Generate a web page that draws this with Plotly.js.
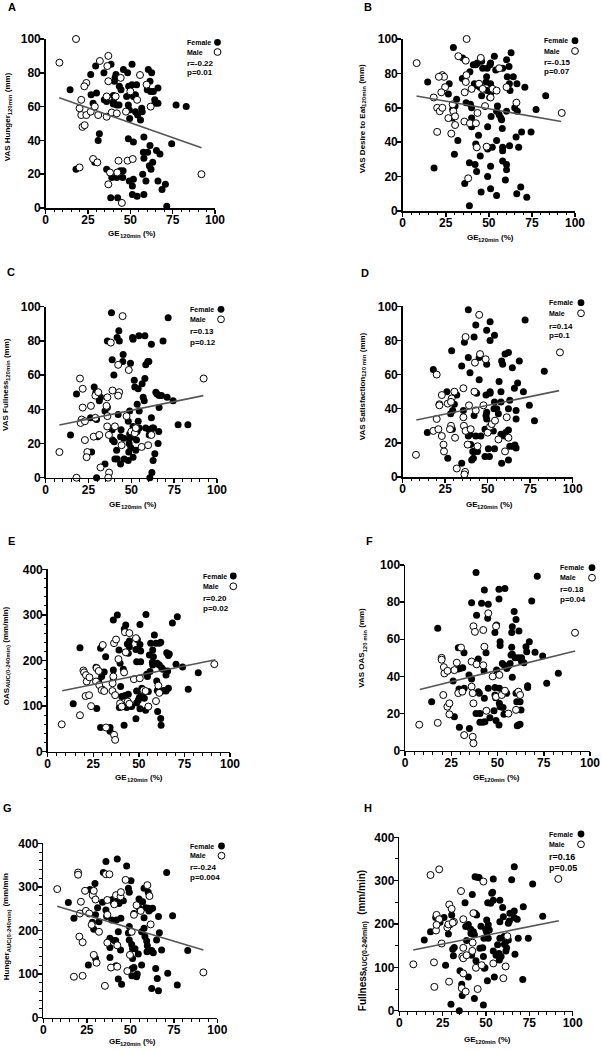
<!DOCTYPE html>
<html><head><meta charset="utf-8">
<script src="https://cdn.plot.ly/plotly-3.0.1.min.js"></script>
<style>body{margin:0;background:#fff}#chart{width:602px;height:1050px}</style>
</head><body><div id="chart"></div>
<script>
// ---------- DATA ----------
const fitX = [8, 92];

// A: VAS Hunger 120min
const hungerFemale = [[14.4,70],[26.6,79],[29.5,84],[38.6,85],[34.4,80],[41,77],[41.5,79],[45.9,82],[48.4,80],[51,85],[40.6,75],[43.5,72],[44.5,70],[49,72],[51,73],[53.7,73],[60.6,82],[62.6,80],[61.6,75],[66.3,71],[60,70],[62,69],[63.6,69],[50,68],[47.8,66],[51.8,66],[53,67],[26.8,67],[30,68],[28,62],[34.6,64],[36,63],[40,63],[40,66.5],[40,61.6],[42,61],[43.3,61],[48.8,61],[49.4,58],[53,57],[54.3,55],[56,52],[57,57],[56.7,59],[64.4,64],[64.6,62],[66.3,62],[77,61],[83,60],[49.6,53],[31.7,44],[31,40],[48.8,41],[51.8,39],[58,42],[61.6,37],[57.7,33],[60.2,33],[63.2,27],[61.2,25],[62.2,23],[65.4,34],[67.5,32],[58,29.5],[74.4,38],[29,27],[17.9,23],[36,23],[39,18],[42,18],[44,22],[45.7,22],[45.5,18],[49.4,16],[51.8,17],[51.2,13],[57.3,20],[59.2,16],[66.3,16],[70.7,14],[68.7,11],[38.4,6],[42.5,6],[51.2,8],[54,7],[58,8],[71.5,1]];
const hungerMale = [[17.9,100],[8.1,86],[37,90],[32,87],[36.4,84],[24,74],[22.8,72],[37,75],[44.3,77],[55.7,78.7],[21,64],[41.3,66],[20,59],[21,55],[24,55],[26.6,57],[29,60],[31,55],[36,54],[39,56.5],[42,56],[47.4,57],[21.7,48],[23,49],[36,66],[54,64],[50,69],[59.6,73],[62,60],[20,24],[28,29],[30.5,27],[43,28],[48.4,28],[51.4,29],[38,21],[42.3,21],[37,14],[45,3],[92,20]];
const hungerFit = [65.2, 35.6];
const hungerStat = ['r=-0.22', 'p=0.01'];

// B: VAS Desire to Eat 120min
const desireFemale = [[14.5,75],[18.2,25],[26.5,68],[27,74],[29.4,95],[31.3,65],[30.4,61],[29,59],[28.8,54],[32,41],[30,33],[34.8,89],[34.6,77],[39,81],[36.8,63],[39.3,62],[40,60],[40,54],[40,49],[41.6,74],[43,73],[44.9,72],[43.3,86],[41,85],[42.4,85],[45.8,87],[46.4,83],[49,83],[51,86],[50.7,85],[53.2,90],[54,82],[58,83],[60.3,88],[62.9,92],[61.7,84],[64.2,78],[60.7,78],[61.9,74],[62.3,70],[66.3,74],[70.9,72],[83,67],[77.4,59],[48.4,75],[49,70],[50.5,66],[51.3,69],[48.7,78],[51,74],[45.8,67],[44.5,74],[55,61],[54.5,58],[51.3,55],[56,56],[57.4,53],[57,54],[60.3,58],[65,60],[66.5,58],[69,46],[65.8,43],[74.5,46],[62,38],[67.3,37],[49.3,49],[54.5,41],[52,37],[49.3,36],[57.8,48],[58,37],[58,35],[58,29],[60.3,27],[60.3,24],[59.6,18],[44,44],[42.4,39],[42,27],[42.9,23],[38.7,28],[45,32],[51,26],[49.3,20],[45.5,11],[51,13],[54.5,9],[36,16],[38.7,3],[66.2,10],[68.5,14],[72,8]];
const desireMale = [[37.1,100],[8.1,86],[32.3,90],[36.6,87.4],[45.3,89],[23,79],[24,78],[21,78],[37,79],[36.6,75],[44.3,74],[24.6,72],[22.4,69],[36,69],[40,71],[46.4,71],[52.2,71],[54.5,70],[56,83],[60.3,72],[66,63],[18,66],[20,60],[21.5,58],[23,60],[26.5,54],[29.4,58],[29,62],[30.4,55],[30.4,50],[28.2,45],[20,46],[35.8,52],[39,51],[43.4,57],[42.5,51],[47.8,61],[43,37],[48.7,37.4],[38,19],[51,66],[92.3,57]];
const desireFit = [66.9, 52];
const desireStat = ['r=-0.15', 'p=0.07'];

// C: VAS Fullness 120min
const fullnessFemale = [[14.5,25],[18,49],[26.8,15],[26.2,35],[28.3,53],[29.3,50],[29.7,34],[30.3,24],[29.7,0],[31.3,45],[32,47],[34.6,8],[34.6,39],[36,41],[36,80],[38.4,96.5],[38.8,69],[39.8,60],[41.7,82],[42.7,86],[43,80],[42.3,37],[38.8,28],[39,22],[40,21],[41.4,16],[40.4,11],[41.7,11],[43.7,8],[43.7,24],[44,28],[45.6,23],[45,68],[45.2,72],[45.8,11],[48.5,15],[49,23],[48.7,20],[49,25.5],[49.7,17.5],[48.2,33],[49,39],[49.5,67],[48.2,10],[50.7,24],[51,30],[50.7,82],[51,81],[51.7,57],[52,53],[53.4,43],[53.4,27],[51,12],[52.6,16],[54,33],[53,22],[54.4,83],[54.6,29],[54.6,39],[54,52],[56.3,55],[56.9,47],[57.5,45],[57.9,58],[58.4,66],[59.6,68],[60.2,68],[57.9,83],[58.4,29],[60.4,28],[60.4,25],[61.4,28],[62.3,29],[63,29],[60.8,0],[62,3],[62.7,10],[63.7,14],[61.7,35],[61.7,78],[64.3,50],[65,49],[66.2,48],[67.6,48],[66.2,41],[66,27],[65.6,20],[68.5,80],[70.9,47],[71.5,93.5],[74.4,45],[77.3,31],[83,31]];
const fullnessMale = [[8,15],[18,0],[20,58],[21.6,52],[21.6,41],[21,34],[20.4,32],[22.9,33],[22.9,22],[24.3,15],[23.9,12],[26.4,42],[29,35],[29,48],[30.7,50],[28,24],[31.3,25],[32,6],[36,36],[35.9,30],[36.9,25],[35.5,42],[36,47],[38,79],[39,51],[40.4,30],[37,3],[36.5,0],[42.3,66],[42.9,50],[42.3,48],[44.3,19],[44.9,94.5],[48.5,63],[47.2,36],[50,27],[52,26],[52.6,29],[56,18],[59.8,19],[61.7,25],[92.2,58]];
const fullnessFit = [30.8, 48];
const fullnessStat = ['r=0.13', 'p=0.12'];

// D: VAS Satisfaction 120 min
const satisfFemale = [[14.5,26],[18,63],[26,50],[26.5,11],[28.8,74],[29.2,28],[28.2,37],[29.4,39],[30.4,42.6],[31.8,48],[34.7,65],[34.7,8],[35.7,39],[36.3,79],[38.6,98],[38.6,70],[38.6,24],[39.6,25],[39.6,61],[40,19],[40.6,10],[41.6,11],[41.2,15],[42.2,15],[42,82],[43,89],[42,36],[43,24],[43.5,49],[44,15],[45,70],[45,57],[46,24],[49.4,86],[49.4,66],[49,48],[49,36],[49.4,34],[49.4,38],[48.4,28],[48.4,12],[50.4,16.5],[51,12],[51.4,91],[51.4,80],[51.4,49],[51.4,50],[54,83],[54,44],[53.7,40],[53.3,27],[54,16.5],[55.3,40],[56.3,37],[56.7,56],[57.8,50],[57.8,44],[57.8,25],[58.2,68],[58.8,66],[58.2,8],[60.2,72],[62.2,73],[60,24],[60.6,26],[62.2,27.5],[62.2,40],[62.2,10],[63,45],[63,18],[64.7,18],[64.5,64],[66,18.7],[66.7,17],[66.7,39],[66.7,34],[65.7,52],[67.6,55],[68.6,68],[71,50],[72,92],[74.5,42],[77.5,33],[83.3,62]];
const satisfMale = [[7.8,13],[18,27],[20,60],[20,34],[21.6,42.6],[21.6,42],[21,28],[23,24],[23,48],[24,19],[24.3,15],[26.5,43],[28.8,46],[28.4,44],[28.4,30],[27.8,28],[30.4,50],[30.8,23],[31.8,5],[35.7,52],[35.7,35],[36,30],[37,27],[36.7,3],[36.3,1.5],[37,82],[38.2,19],[39,42],[40,28],[42.5,67],[42.2,50],[43,39],[44,18],[45,95],[45.5,72],[47.5,42],[48.8,69],[50,26],[51.4,29.5],[52.4,31],[54.3,33],[56.3,22],[60.2,15],[61.2,35],[62.2,23],[92.5,73]];
const satisfFit = [33.4, 50.6];
const satisfStat = ['r=0.14', 'p=0.1'];

// E: OAS AUC(0-240min)
const oasAucFemale = [[14,105],[17.7,228],[26.9,95],[26.5,185],[28,155],[29,227],[29.6,165],[29,53],[31,175],[31.8,208],[30,137],[34.2,53],[34.2,45],[36,289],[36,179],[36,161],[38.2,300],[39.1,223],[39.7,194],[40,143],[39.3,97],[41.1,102],[41.9,58],[40.6,121],[42.4,123],[41.5,181],[42,269],[42.8,278],[43.7,236],[44.2,216],[44.8,230],[44.8,243],[44.2,126],[45.1,100],[43.3,97],[46,99],[48.4,72],[48.8,133],[48.4,224],[49.2,246],[48.8,197],[48.8,107],[49.7,113],[50.3,119],[50.6,279],[50.6,235],[51,221],[51,197],[51.6,123],[51.6,139],[50.6,94],[53,117],[53.7,91],[53.9,301],[54.3,170],[54.7,165],[55.2,132],[55.8,212],[56.1,176],[56.5,238],[57.6,223],[58,208],[57.4,196],[57.6,190],[58.5,256],[59.4,238],[59.8,155],[60.1,194],[60.1,134],[60.3,88],[61.2,238],[62,240],[61.2,190],[62,73],[62.2,58],[62.5,184],[63.1,181],[64,134],[63.1,133],[64.9,133],[64.9,168],[65.3,217],[66.2,211],[66.7,214],[66.2,139],[65.8,177],[68.4,282],[71.1,296],[70.4,192],[74,186],[77.1,137],[82.6,173]];
const oasAucMale = [[7.7,60],[17.7,80],[19.6,178],[20,174],[21,168],[21.4,154],[22.9,163],[20.8,122],[22.7,124],[23.8,100],[26.9,183],[26.5,154],[28,177],[28.3,146],[29.6,135],[30.2,234],[31,133],[32,53],[35.6,150],[36,165],[35.5,133],[36.4,238],[37,124],[36.4,37],[37,26],[37.5,246],[38.8,203],[42.4,262],[44.8,260],[42.8,218],[41.9,174],[43.9,110],[44.8,105],[39.7,106],[40.6,99],[47.3,159],[48.4,249],[50.5,161],[52.5,135],[53.7,133],[55.2,99],[59.4,111],[60.7,145],[61.2,129],[91.4,192]];
const oasAucFit = [133.8, 201.8];
const oasAucStat = ['r=0.20', 'p=0.02'];

// F: VAS OAS 120 min
const oasFemale = [[14.4,26.4],[17.7,66],[26,37.5],[26.7,18.3],[28.8,44],[29.7,44.3],[31.2,44.7],[29.4,12.6],[29.2,33.2],[28.8,55.5],[31.9,52.8],[32,33.6],[34.8,12],[34.6,40.8],[36,38.6],[36,79.7],[38.4,96],[38.7,73],[38.4,20],[39.6,31.8],[40.2,31],[39.6,49.4],[40.5,20],[40.5,15.3],[41.4,79.4],[42,15.3],[42.7,43],[42.9,28.2],[43.2,15.6],[43.8,52.8],[45,78.8],[44.7,71.3],[45,33.6],[45.9,17.8],[42.9,86.5],[48.6,63.7],[49.5,67.7],[48.6,34],[49.5,43.4],[48.6,30],[49,28.5],[48.1,21.5],[49.2,16.2],[50.8,86.9],[50.8,81.7],[51.4,58.7],[51.4,56.6],[51,33.6],[51,25.5],[51.4,23.7],[50.8,13.8],[54,87.4],[52.6,47],[53.7,46],[55,44.3],[55,30.9],[53.5,19.6],[53,23.2],[55.9,45.6],[56.8,47],[57.7,55.7],[57.3,51.5],[58,52],[57.7,63.7],[58,66.8],[58,39.5],[59,74.9],[60,70.7],[59.5,50],[60,30.9],[60.4,26.4],[60.7,13.5],[61.3,13.8],[61.6,64.5],[61.3,50],[62.2,14.2],[62.7,21.9],[62.2,26.4],[63,50],[63,48],[65.4,56],[65.8,53.3],[66.3,35],[66.3,34],[67.2,58.7],[64.3,47.4],[68.5,80.6],[70.3,53],[71.5,94],[74.4,51],[76.6,36.3],[82.9,41.7]];
const oasMale = [[7.7,14],[17.7,15],[19.8,50],[19.8,49],[21,45],[21.3,41.6],[23,43],[20.7,30],[22.9,23.7],[24,25.5],[24,19.6],[26.7,43.4],[28,47.4],[28.8,31],[31,31.8],[30.3,55.5],[32,8.4],[36,48],[37,67],[37.8,64],[38.7,46.5],[36,34.5],[36.6,31],[37,25.5],[36.6,7.5],[37,4],[42.3,65],[42.3,46],[42.9,56],[44,21.5],[45,74],[47.4,40],[49.2,67],[49.2,29],[51,40.8],[52.3,30],[54,32.3],[55.9,20],[60,22],[61.3,31.8],[62.2,30],[91.9,63.5]];
const oasFit = [33, 53.7];
const oasStat = ['r=0.18', 'p=0.04'];

// G: Hunger AUC(0-240min)
const hungerAucFemale = [[14.4,264],[17.6,228],[26.8,294],[25.9,121],[28.2,219],[29,203],[29.7,308],[30,236],[30,136],[31.2,252],[32,220],[34,265],[34.5,333],[36,358],[36,247],[36.4,232],[38.3,182],[38.3,161],[38.3,138],[39.3,224],[39.8,271],[40.2,264],[41.6,266],[40.8,177],[41.6,177],[42.1,224],[41.8,119],[42.5,364],[43.1,89],[43.1,197],[43.5,262],[44.6,228],[44.4,155],[45,77],[46,268],[47.9,348],[48.9,297],[49.4,288],[49.4,209],[48.9,194],[49.4,178],[50.4,314],[50.8,168],[51.3,159],[51.3,136],[51.1,113],[50.9,96],[52.1,115],[52.1,239],[52.7,158],[53.6,94],[54,100],[54.6,146],[55,272],[55,252],[56.5,121],[56.5,197],[57.9,297],[57.1,266],[57.9,229],[57.9,205],[58.4,186],[58.8,252],[59.4,176],[60.3,288],[59.8,165],[59.6,151],[60.3,251],[60.7,245],[61.7,249],[62.3,154],[62.8,251],[62.3,67],[63.2,149],[64.6,113],[65.1,178],[65.5,90],[66.2,62],[66.2,232],[66.7,195],[68,155],[70.9,333],[71.5,102],[74.3,234],[77,75],[83,154]];
const hungerAucMale = [[8,295],[20,333],[20,328],[21.6,266],[21,239],[20.7,186],[22.6,173],[17.6,94],[22.6,96],[24,291],[24.5,245],[26.4,239],[28.4,281],[30,271],[29,291],[27.8,213],[32,197],[29,144],[30.6,126],[35.4,73],[36,329],[38,329],[36.8,270],[36.8,236],[36.8,172],[38.9,115],[40.8,260],[41.8,281],[42.5,166],[42.5,117],[44.4,278],[44.6,288],[47.3,316],[48.3,107],[49.8,144],[50.8,197],[52.1,236],[53.6,258],[56,245],[59.8,304],[61,279],[61.7,214],[92,104]];
const hungerAucFit = [255.4, 155.3];
const hungerAucStat = ['r=-0.24', 'p=0.004'];

// H: Fullness AUC(0-240min)
const fullAucFemale = [[14.4,163],[18,182],[21,215],[23.5,204],[25.8,215],[26.7,105],[28.3,177],[29.2,198],[30.2,221],[30.8,142],[31.2,127],[31.7,146],[29.8,15],[34.6,0],[35,92],[36,61],[36.3,35],[37.9,249],[38.3,194],[38.8,162],[39.8,199],[39.8,78],[41.2,188],[41.3,178],[41.7,128],[42.1,268],[42.7,182],[43.3,28],[43.3,175],[43.7,309],[45,308],[46,307],[43.7,225],[44.2,115],[44.6,221],[46.5,144],[47.1,195],[48.1,145],[48.5,125],[48.8,167],[48.5,13],[49,98],[49.4,99],[49.8,188],[50.4,209],[50.4,181],[50.8,69],[51.3,198],[51.3,167],[51,249],[51.9,186],[52.7,248],[53.3,271],[53.8,273],[54.2,304],[54.2,255],[54.2,138],[54.8,78],[55.8,128],[56.7,152],[57.5,132],[58,255],[58,205],[58,167],[58.7,125],[57.7,117],[59.6,238],[60,217],[60.4,171],[60.6,153],[61.3,159],[61.5,138],[61.9,145],[62.9,163],[62.9,202],[63.5,207],[63.8,225],[64.8,302],[66.3,230],[66.3,215],[66.7,130],[66.3,332],[68,211],[68.6,167],[71.2,72],[71.5,240],[76.9,292],[74.4,167],[82.7,218]];
const fullAucMale = [[8.1,107],[18,313],[23,326],[20.2,55],[20,111.5],[21.2,185],[21.5,221],[23,211],[21.5,198],[24.4,155],[27.7,192],[28.3,199],[28.8,245],[30.2,235],[31.5,205],[30.8,203],[28.7,67],[35.6,276],[36.9,211],[36.9,145],[36.3,125],[36.9,121],[36.9,86],[36,52],[38.3,44],[38.8,128],[42.3,157],[42.1,138],[42.7,225],[44.2,99],[45.2,50],[47.5,105],[48.5,298],[54.2,109],[60,75],[61.3,102],[62.3,172],[91.7,304]];
const fullAucFit = [140, 207.7];
const fullAucStat = ['r=0.16', 'p=0.05'];

const panelLetters = ['A','B','C','D','E','F','G','H'];
// axis titles: [main, subscript, tail]
const yTitles = [
  ['VAS Hunger', '120min', ' (mm)'],
  ['VAS Desire to Eat', '120min', ' (mm)'],
  ['VAS Fullness', '120min', ' (mm)'],
  ['VAS Satisfaction', '120 min', ' (mm)'],
  ['OAS', 'AUC(0-240min)', ' (mm/min)'],
  ['VAS OAS', '120 min', ' (mm)'],
  ['Hunger', 'AUC(0-240min)', ' (mm/min'],
  ['Fullness', 'AUC(0-240min)', '  (mm/min)']
];
const xTitle = ['GE', '120min', ' (%)'];
const legendLabels = ['Female', 'Male'];

// ---------- LAYOUT (pixel geometry) ----------
const W = 602, H = 1050;
const px = x => x / W, py = y => 1 - y / H;

const panels = [
  {f: hungerFemale, m: hungerMale, fit: hungerFit, st: hungerStat, ymax: 100, dy: 20, mdy: null, ts: 8,
   box: [45.7, 215, 39, 208], let: [12, 7], yt: [7, 118], xt: [130.5, 233], leg: [186, 217.5, 42.3, 52, 63.3, 72.3]},
  {f: desireFemale, m: desireMale, fit: desireFit, st: desireStat, ymax: 100, dy: 20, mdy: null, ts: 8,
   box: [402.7, 575, 39, 211], let: [368, 7], yt: [362, 120], xt: [489, 237.3], leg: [543.3, 575, 40.7, 51, 62.3, 71.3]},
  {f: fullnessFemale, m: fullnessMale, fit: fullnessFit, st: fullnessStat, ymax: 100, dy: 20, mdy: null, ts: 8,
   box: [45.7, 217, 306.7, 477.7], let: [11, 272], yt: [6, 386], xt: [131.7, 504.3], leg: [189, 221, 309.3, 319.3, 331.7, 342.3]},
  {f: satisfFemale, m: satisfMale, fit: satisfFit, st: satisfStat, ymax: 100, dy: 20, mdy: null, ts: 8,
   box: [402.7, 572.7, 306.3, 477], let: [365, 273], yt: [362, 387.5], xt: [488.3, 504.3], leg: [548.3, 581, 302.7, 313.3, 326, 335.7]},
  {f: oasAucFemale, m: oasAucMale, fit: oasAucFit, st: oasAucStat, ymax: 400, dy: 100, mdy: 20, ts: 8,
   box: [47.7, 230, 569.3, 751.7], let: [11, 541], yt: [6, 657], xt: [137.8, 777.3], leg: [201.7, 233.3, 576, 586.3, 598.3, 608.3]},
  {f: oasFemale, m: oasMale, fit: oasFit, st: oasStat, ymax: 100, dy: 20, mdy: null, ts: 8,
   box: [405, 590, 565, 750.7], let: [369, 541], yt: [362, 649], xt: [495, 777.3], leg: [559.3, 592, 567.7, 577.7, 589.3, 599]},
  {f: hungerAucFemale, m: hungerAucMale, fit: hungerAucFit, st: hungerAucStat, ymax: 400, dy: 100, mdy: 20, ts: 8,
   box: [43.3, 217.3, 843.3, 1017.7], let: [7, 808], yt: [6, 928], xt: [131, 1041], leg: [189.3, 221.5, 846, 855.7, 867.7, 877.3]},
  {f: fullAucFemale, m: fullAucMale, fit: fullAucFit, st: fullAucStat, ymax: 400, dy: 100, mdy: 50, ts: 10,
   box: [399.3, 572.7, 837.3, 1010.7], let: [368, 808], yt: [362, 942], xt: [486, 1039], leg: [548.3, 581, 834, 844.3, 856.7, 868.3]}
];

const FONT = 'Liberation Sans, Arial, Helvetica, sans-serif';
const ctx = document.createElement('canvas').getContext('2d');
function textWidth(t, s) { ctx.font = 'bold ' + s + 'px "Liberation Sans", Arial, sans-serif'; return ctx.measureText(t).width; }

const traces = [], annotations = [], shapes = [];

function addTitle(parts, cx, cy, vertical, main) {
  const sub = Math.round(main * 0.72);
  const sizes = [main, sub, main];
  let total = 0; const items = [];
  parts.forEach((t, k) => {
    const s = sizes[k];
    const lead = t.length - t.replace(/^\s+/, '').length;
    const lw = lead ? textWidth(' '.repeat(lead), s) : 0;
    const txt = t.trim();
    const w = textWidth(txt, s);
    items.push({txt, s, off: total + lw, sub: k === 1});
    total += lw + w;
  });
  const shift = main * 0.33;
  items.forEach(it => {
    const base = {xref: 'paper', yref: 'paper', text: it.txt, showarrow: false, borderpad: 0,
      font: {family: FONT, size: it.s, weight: 'bold', color: '#000'}};
    if (!vertical) {
      const x0 = cx - total / 2;
      annotations.push(Object.assign(base, {x: px(x0 + it.off), xanchor: 'left',
        y: py(cy + (it.sub ? shift : 0)), yanchor: 'middle'}));
    } else {
      const yb = cy + total / 2;
      annotations.push(Object.assign(base, {textangle: -90, y: py(yb - it.off), yanchor: 'bottom',
        x: px(cx + (it.sub ? shift : 0)), xanchor: 'center'}));
    }
  });
}

const layout = {
  width: W, height: H, margin: {l: 0, r: 0, t: 0, b: 0},
  paper_bgcolor: '#fff', plot_bgcolor: 'rgba(0,0,0,0)', showlegend: false,
  font: {family: FONT, color: '#000'}
};

panels.forEach((p, i) => {
  const n = i + 1, sx = n === 1 ? '' : String(n);
  const xa = 'x' + sx, ya = 'y' + sx;
  const axCommon = {
    showline: true, linecolor: '#000', linewidth: 1.5, mirror: false,
    ticks: 'outside', ticklen: 4, tickwidth: 1.5, tickcolor: '#000',
    showgrid: false, zeroline: false, fixedrange: true,
    tickfont: {family: FONT, size: 12, color: '#000', weight: 'bold'}
  };
  layout['xaxis' + sx] = Object.assign({}, axCommon, {
    domain: [px(p.box[0]), px(p.box[1])], anchor: ya, range: [0, 100],
    tickvals: [0, 25, 50, 75, 100], ticklabelstandoff: -4,
    minor: {ticks: 'outside', dtick: 5, tick0: 0, ticklen: 2.5, tickwidth: 1, tickcolor: '#000', showgrid: false}
  });
  const yax = Object.assign({}, axCommon, {
    domain: [py(p.box[3]), py(p.box[2])], anchor: xa, range: [0, p.ymax],
    tickmode: 'linear', tick0: 0, dtick: p.dy, ticklabelstandoff: -3
  });
  if (p.mdy) yax.minor = {ticks: 'outside', dtick: p.mdy, tick0: 0, ticklen: 2.5, tickwidth: 1, tickcolor: '#000', showgrid: false};
  layout['yaxis' + sx] = yax;

  traces.push({
    type: 'scatter', mode: 'markers', xaxis: xa, yaxis: ya, cliponaxis: false, name: 'Female',
    x: p.f.map(d => d[0]), y: p.f.map(d => d[1]),
    marker: {symbol: 'circle', size: 7, color: '#000', line: {width: 0}}
  });
  traces.push({
    type: 'scatter', mode: 'markers', xaxis: xa, yaxis: ya, cliponaxis: false, name: 'Male',
    x: p.m.map(d => d[0]), y: p.m.map(d => d[1]),
    marker: {symbol: 'circle', size: 7, color: '#fff', line: {width: 1, color: '#000'}}
  });
  traces.push({
    type: 'scatter', mode: 'lines', xaxis: xa, yaxis: ya, cliponaxis: false, name: 'fit',
    x: fitX, y: p.fit, line: {color: '#555', width: 1.6}
  });

  annotations.push({xref: 'paper', yref: 'paper', x: px(p.let[0]), y: py(p.let[1]), xanchor: 'center', yanchor: 'middle',
    text: panelLetters[i], showarrow: false, font: {family: FONT, size: 11, weight: 'bold', color: '#000'}});
  addTitle(yTitles[i], p.yt[0], p.yt[1], true, p.ts);
  addTitle(xTitle, p.xt[0], p.xt[1], false, 8);

  const L = p.leg;
  [legendLabels[0], legendLabels[1], p.st[0], p.st[1]].forEach((t, k) => {
    annotations.push({xref: 'paper', yref: 'paper', x: px(L[0]), y: py(L[2 + k]), xanchor: 'left', yanchor: 'middle',
      text: t, showarrow: false, borderpad: 0, font: {family: FONT, size: k < 2 ? 7 : (i === 7 ? 9 : 8), weight: 'bold', color: '#000'}});
  });
  const r = 3.4;
  shapes.push({type: 'circle', xref: 'paper', yref: 'paper', x0: px(L[1] - r), x1: px(L[1] + r), y0: py(L[2] + r), y1: py(L[2] - r),
    fillcolor: '#000', line: {width: 0}});
  shapes.push({type: 'circle', xref: 'paper', yref: 'paper', x0: px(L[1] - r), x1: px(L[1] + r), y0: py(L[3] + r), y1: py(L[3] - r),
    fillcolor: '#fff', line: {width: 1, color: '#000'}});
});

layout.annotations = annotations;
layout.shapes = shapes;
Plotly.newPlot('chart', traces, layout, {staticPlot: true, displayModeBar: false});
</script>
</body></html>
